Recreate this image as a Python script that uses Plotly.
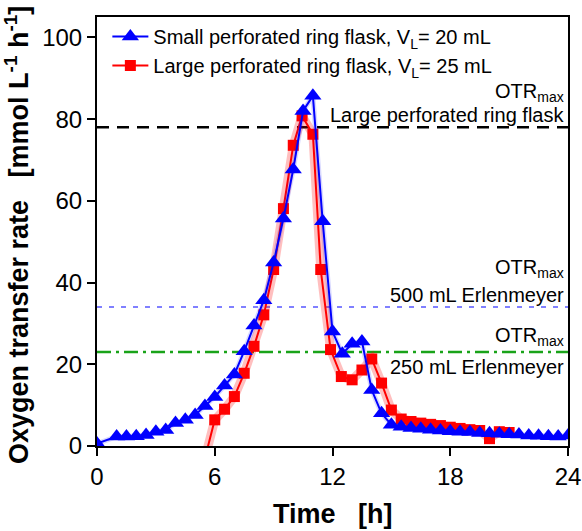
import plotly.graph_objects as go

# ---- data ----
small_t = [0.0, 1.0, 1.5, 2.0, 2.5, 3.0, 3.5, 4.0, 4.5, 5.0, 5.5, 6.0, 6.5, 7.0, 7.5,
           8.0, 8.5, 9.0, 9.5, 10.0, 10.5, 11.0, 11.5, 12.0, 12.5, 13.0, 13.5, 14.0,
           14.5, 15.0, 15.5, 16.0, 16.5, 17.0, 17.5, 18.0, 18.5, 19.0, 19.5, 20.0,
           20.5, 21.0, 21.5, 22.0, 22.5, 23.0, 23.5, 24.0]
small_otr = [0.6, 2.3, 2.3, 2.4, 2.7, 3.5, 3.9, 5.6, 6.4, 7.6, 9.8, 12.0, 14.8, 17.5, 23.2,
             29.5, 35.7, 44.9, 55.7, 67.7, 82.0, 85.7, 55.0, 28.0, 22.6, 25.0, 25.6, 13.7,
             8.0, 5.2, 4.7, 4.4, 4.2, 4.0, 3.8, 3.6, 3.5, 3.4, 3.2, 3.1,
             3.0, 2.9, 2.8, 2.6, 2.5, 2.4, 2.3, 2.6]

large_t = [5.5, 6.0, 6.5, 7.0, 7.5, 8.0, 8.5, 9.0, 9.5, 10.0, 10.45, 11.0, 11.4, 11.9,
           12.45, 13.0, 13.5, 14.0, 14.5, 15.0, 15.5, 16.0, 16.5, 17.0, 17.5, 18.0,
           18.5, 19.0, 19.5, 20.0, 20.5, 21.0]
large_otr = [-3.0, 6.4, 9.0, 12.1, 17.8, 24.4, 32.1, 43.2, 58.1, 73.6, 80.8, 76.3, 43.2, 23.6,
             17.0, 16.2, 18.6, 21.3, 15.4, 8.8, 6.6, 6.0, 5.6, 5.3, 5.0, 4.6,
             4.3, 4.0, 3.8, 1.8, 3.5, 3.3]

series_names = ["Small perforated ring flask, V<sub>L</sub>= 20 mL",
                "Large perforated ring flask, V<sub>L</sub>= 25 mL"]

otr_max_levels = [78, 34, 23]
otr_max_labels = ["Large perforated ring flask", "500 mL Erlenmeyer", "250 mL Erlenmeyer"]

x_ticks = [0, 6, 12, 18, 24]
y_ticks = [0, 20, 40, 60, 80, 100]

FONT = "Arial, 'Liberation Sans', sans-serif"

fig = go.Figure()

# shaded bands (drawn behind)
fig.add_trace(go.Scatter(x=large_t, y=large_otr, mode="lines",
                         line=dict(color="rgba(255,0,0,0.25)", width=9),
                         showlegend=False, hoverinfo="skip"))
fig.add_trace(go.Scatter(x=large_t, y=large_otr, mode="lines+markers",
                         name=series_names[1], legendrank=2,
                         line=dict(color="#ff0000", width=2),
                         marker=dict(symbol="square", size=11, color="#ff0000")))
fig.add_trace(go.Scatter(x=small_t, y=small_otr, mode="lines",
                         line=dict(color="rgba(0,0,255,0.15)", width=5),
                         showlegend=False, hoverinfo="skip"))
fig.add_trace(go.Scatter(x=small_t, y=small_otr, mode="lines+markers",
                         name=series_names[0], legendrank=1,
                         line=dict(color="#0000ff", width=2),
                         marker=dict(symbol="triangle-up", size=15, color="#0000ff")))

# OTRmax reference lines
line_styles = [dict(color="black", width=2.5, dash="12px,8px"),
               dict(color="#8080ff", width=2, dash="5px,7px"),
               dict(color="#19a319", width=2.5, dash="14px,5px,3px,5px")]
for lvl, st in zip(otr_max_levels, line_styles):
    fig.add_shape(type="line", xref="paper", x0=0, x1=1, yref="y", y0=lvl, y1=lvl,
                  line=st, layer="below")

# labels (pixel shifts relative to each line)
label_shifts = [(35, 12), (39, 12), (16, -15)]
for lvl, lab, (s_otr, s_lab) in zip(otr_max_levels, otr_max_labels, label_shifts):
    fig.add_annotation(x=1, xref="paper", y=lvl, yref="y", xanchor="right", yanchor="middle",
                       xshift=-2, yshift=s_otr, showarrow=False,
                       text="OTR<sub>max</sub>", font=dict(size=20, color="black", family=FONT))
    fig.add_annotation(x=1, xref="paper", y=lvl, yref="y", xanchor="right", yanchor="middle",
                       xshift=-2, yshift=s_lab, showarrow=False,
                       text=lab, font=dict(size=20, color="black", family=FONT))

# axis titles
fig.add_annotation(x=-80 / 471, xref="paper", y=(446 - 235) / 429, yref="paper",
                   xanchor="center", yanchor="middle", textangle=-90, showarrow=False,
                   text="<b>Oxygen transfer rate\u00a0\u00a0\u00a0[mmol L<sup>-1</sup> h<sup>-1</sup>]</b>",
                   font=dict(size=27, color="black", family=FONT))
fig.add_annotation(x=0.5, xref="paper", y=(446 - 514) / 429, yref="paper",
                   xanchor="center", yanchor="middle", showarrow=False,
                   text="<b>Time\u00a0\u00a0\u00a0[h]</b>",
                   font=dict(size=27, color="black", family=FONT))

axis_common = dict(showline=True, linewidth=2, linecolor="black", mirror=True,
                   ticks="outside", ticklen=8, tickwidth=2, tickcolor="black",
                   showgrid=False, zeroline=False, automargin=False,
                   tickfont=dict(size=24, color="black", family=FONT))

fig.update_layout(
    width=582, height=531,
    margin=dict(l=97, r=14, t=17, b=85),
    plot_bgcolor="white", paper_bgcolor="white",
    font=dict(family=FONT, color="black"),
    xaxis=dict(range=[0, 24], tickvals=x_ticks, **axis_common),
    yaxis=dict(range=[0, 105], tickvals=y_ticks, **axis_common),
    legend=dict(x=0.022, y=1, xanchor="left", yanchor="top",
                bgcolor="rgba(0,0,0,0)", itemwidth=36, traceorder="normal",
                font=dict(size=20, color="black", family=FONT)),
    showlegend=True,
)

fig.write_html("out.html")
